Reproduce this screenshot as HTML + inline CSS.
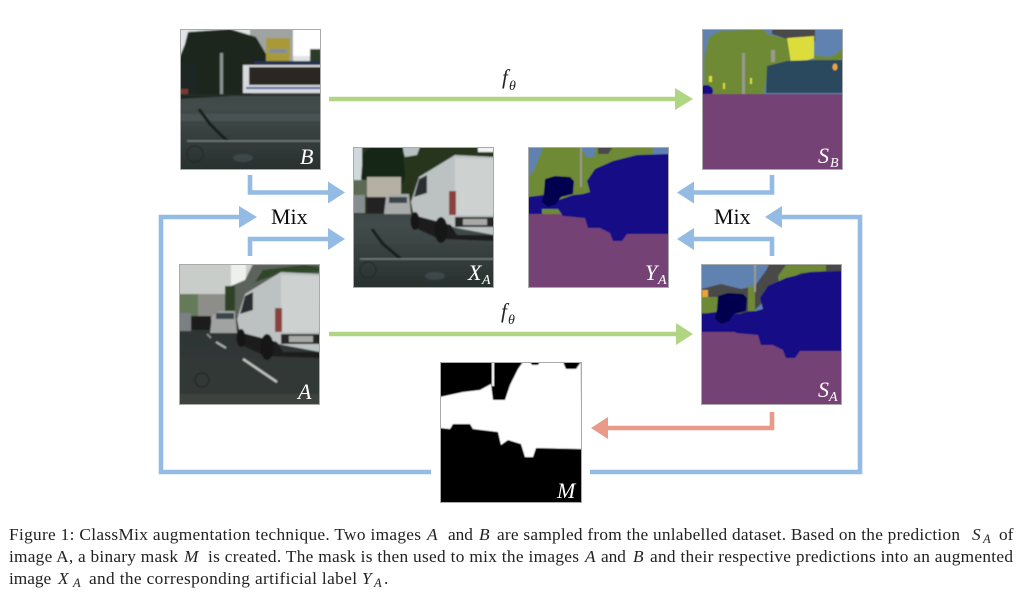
<!DOCTYPE html>
<html><head><meta charset="utf-8"><style>
html,body{margin:0;padding:0;background:#fff}
svg{display:block}
text{font-family:"Liberation Serif",serif}
.lab{fill:#fff;font-style:italic;font-size:22px}
.sub{fill:#fff;font-style:italic;font-size:14px}
.cap{fill:#222;font-size:17.3px}
.i{font-style:italic}
.s{font-style:italic;font-size:12.5px}
.mix{fill:#111;font-size:22px}
.f{fill:#222;font-style:italic;font-size:21px}
.t{fill:#222;font-style:italic;font-size:14px}
</style></head><body>
<svg width="1024" height="594" viewBox="0 0 1024 594" xmlns="http://www.w3.org/2000/svg">
<defs>
<filter id="b" x="-5%" y="-5%" width="110%" height="110%"><feGaussianBlur stdDeviation="0.8"/></filter>
<filter id="c" x="-2%" y="-20%" width="104%" height="140%"><feGaussianBlur stdDeviation="0.35"/></filter>
<filter id="s" x="-2%" y="-5%" width="104%" height="110%"><feGaussianBlur stdDeviation="0.5"/></filter>
<clipPath id="r"><rect width="141" height="141"/></clipPath>
<linearGradient id="road" x1="0" y1="0" x2="0" y2="1"><stop offset="0" stop-color="#30393a"/><stop offset=".55" stop-color="#424c4b"/><stop offset="1" stop-color="#262e2c"/></linearGradient>
<linearGradient id="road2" x1="0" y1="0" x2="0" y2="1"><stop offset="0" stop-color="#2a2f30"/><stop offset="1" stop-color="#333a36"/></linearGradient>
<g id="vb"><polygon points="0,50 15,48 22,56 45,48 55,47 62,45 59,34 67,22 85,14 109,8 141,7 141,87 99,87 94,94 85,94 82,86 72,81 60,81 57,71 35,69 30,62 12,62 9,67 0,67"/></g>
<g id="van">
<polygon points="0,47 8,22 44,0 83,2 83,80 46,73 3,62" fill="#bcc2c2"/>
<polygon points="44,3 83,4 83,60 44,60" fill="#cdd2d1"/>
<polygon points="8,24 16,20 16,38 3,42" fill="#2b2f30"/>
<rect x="38" y="36" width="7" height="24" fill="#8a3f3c"/>
<rect x="44" y="62" width="39" height="10" fill="#262626"/>
<rect x="52" y="64" width="24" height="6" fill="#a9aaa8"/>
<polygon points="2,60 40,70 46,80 83,80 83,86 28,84 2,72" fill="#1f1f1f"/>
<ellipse cx="4" cy="66" rx="4.500" ry="9" fill="#141414"/>
<ellipse cx="30" cy="75" rx="6.500" ry="13" fill="#141414"/>
</g>
</defs>
<rect width="1024" height="594" fill="#fff"/>

<!-- B -->
<g transform="translate(180,29)"><g clip-path="url(#r)"><g filter="url(#b)">
<rect x="-3" y="-3" width="147" height="147" fill="url(#road)"/>
<rect x="-3" y="-3" width="147" height="38" fill="#dfe5e6"/>
<rect x="112" y="-3" width="32" height="30" fill="#fff"/>
<rect x="70" y="-3" width="43" height="35" fill="#a0a4a0"/>
<polygon points="-3,70 -3,35 5,15 8,3 50,0 76,8 86,25 90,40 70,66" fill="#1a261b"/>
<rect x="-3" y="35" width="20" height="31" fill="#1f2720"/>
<rect x="86" y="9" width="24" height="28" fill="#a89a38"/>
<rect x="89" y="20" width="18" height="4" fill="#7f8e9c"/>
<rect x="130" y="20" width="11" height="15" fill="#2c3a26"/>
<rect x="63" y="36" width="78" height="28" fill="#d9dadd"/>
<rect x="69" y="38" width="72" height="18" fill="#2a2622"/>
<rect x="66" y="58" width="75" height="2" fill="#3d5aa0"/>
<rect x="74" y="32" width="67" height="4" fill="#24304f"/>
<rect x="40" y="24" width="3" height="41" fill="#8c9290"/>
<rect x="0" y="60" width="8" height="6" fill="#7a3b34"/>
<rect x="0" y="65" width="141" height="2" fill="#262b2c"/>
<rect x="0" y="85" width="141" height="7" fill="#5b6563" opacity=".4"/>
<polyline points="19,80 30,95 43,108 48,112" stroke="#171b1b" stroke-width="3" fill="none"/>
<line x1="7" y1="112" x2="141" y2="112" stroke="#7f8987" stroke-width="1.2"/>
<circle cx="15" cy="125" r="8" stroke="#1f2726" stroke-width="1" fill="none"/>
<ellipse cx="63" cy="129" rx="10" ry="4" fill="#55656a" opacity=".4"/>
</g></g><rect x=".5" y=".5" width="140" height="140" fill="none" stroke="#aaa"/></g>

<!-- XA -->
<g transform="translate(353,147)"><g clip-path="url(#r)"><g filter="url(#b)">
<rect x="-3" y="-3" width="147" height="147" fill="url(#road)"/>
<rect x="-3" y="-3" width="147" height="70" fill="#26351f"/>
<rect x="-3" y="-3" width="12" height="36" fill="#cfd9dc"/>
<polygon points="48,-3 68,-3 64,8 52,10" fill="#b8c2c2"/>
<rect x="125" y="-3" width="19" height="8" fill="#f2f2f2"/>
<polygon points="8,32 10,6 18,0 50,0 52,30 48,40 15,40" fill="#192718"/>
<rect x="0" y="33" width="16" height="16" fill="#5a6a55"/>
<rect x="14" y="30" width="34" height="21" fill="#b5b0a4"/>
<rect x="14" y="50" width="34" height="16" fill="#222221"/>
<rect x="0" y="48" width="12" height="18" fill="#888e90"/>
<polygon points="31,67 33,50 40,47 56,47 58,67" fill="#a8abaa"/>
<rect x="36" y="50" width="18" height="6" fill="#3a4448"/>
<g transform="translate(58,8)"><use href="#van"/></g>
<polyline points="19,82 30,97 43,108 48,112" stroke="#171b1b" stroke-width="3" fill="none"/>
<line x1="7" y1="112" x2="141" y2="112" stroke="#7f8987" stroke-width="1.2"/>
<circle cx="15" cy="123" r="8" stroke="#1f2726" stroke-width="1" fill="none"/>
<ellipse cx="82" cy="129" rx="10" ry="4" fill="#55656a" opacity=".4"/>
</g></g><rect x=".5" y=".5" width="140" height="140" fill="none" stroke="#aaa"/></g>

<!-- A -->
<g transform="translate(179,264)"><g clip-path="url(#r)"><g filter="url(#b)">
<rect x="-3" y="-3" width="147" height="147" fill="url(#road2)"/>
<rect x="-3" y="-3" width="147" height="40" fill="#c9cdc9"/>
<rect x="52" y="-3" width="15" height="24" fill="#eef0ee"/>
<polygon points="52,22 66,16 74,0 141,0 141,20 60,52 52,52" fill="#5c625c"/>
<polygon points="76,18 84,6 125,1 141,3 141,8 100,10" fill="#2f4628"/>
<rect x="0" y="30" width="20" height="22" fill="#657a58"/>
<rect x="19" y="30" width="27" height="26" fill="#8d8e8a"/>
<rect x="46" y="22" width="10" height="30" fill="#2e4228"/>
<rect x="0" y="49" width="12" height="18" fill="#7b8084"/>
<rect x="12" y="52" width="20" height="14" fill="#1a1a1a"/>
<polygon points="31,69 33,52 40,47 56,47 58,69" fill="#a0a3a2"/>
<rect x="37" y="49" width="18" height="6" fill="#3a4448"/>
<g transform="translate(58,8)"><use href="#van"/></g>
<line x1="64" y1="95" x2="98" y2="118" stroke="#c0c3c0" stroke-width="2.4"/>
<line x1="37" y1="78" x2="47" y2="84" stroke="#aeb2ae" stroke-width="2"/>
<line x1="28" y1="70" x2="32" y2="74" stroke="#999" stroke-width="1.5"/>
<circle cx="23" cy="116" r="7" stroke="#1d2322" stroke-width="1" fill="none"/>
<rect x="0" y="130" width="141" height="11" fill="#3d423e"/>
</g></g><rect x=".5" y=".5" width="140" height="140" fill="none" stroke="#aaa"/></g>

<!-- YA -->
<g transform="translate(528,147)"><g clip-path="url(#r)"><g filter="url(#s)">
<rect width="141" height="141" fill="#744274"/>
<polygon points="0,0 141,0 141,40 60,67 0,67" fill="#6e8a35"/>
<polygon points="0,0 15,0 12,8 5,25 0,30" fill="#5f82b0"/>
<polygon points="53,0 68,0 66,10 58,10" fill="#5f82b0"/>
<polygon points="70,0 85,0 80,7 70,7" fill="#4a4a4a"/>
<polygon points="125,0 141,0 141,8 125,8" fill="#5f82b0"/>
<rect x="52" y="0" width="2" height="40" fill="#989a8e"/>
<use href="#vb" fill="#170a86"/>
<rect x="0" y="50" width="14" height="17" fill="#170a86"/>
<polygon points="17,32 27,29 42,30 46,34 45,47 33,50 28,57 20,60 14,55 16,45" fill="#05024f"/>
</g></g><rect x=".5" y=".5" width="140" height="140" fill="none" stroke="#aaa"/></g>

<!-- SB -->
<g transform="translate(702,29)"><g clip-path="url(#r)"><g filter="url(#s)">
<rect width="141" height="141" fill="#744274"/>
<rect width="141" height="65" fill="#5f82b0"/>
<polygon points="2,65 2,30 7,8 18,2 60,0 68,6 88,10 88,35 65,45 62,65" fill="#6e8a35"/>
<polygon points="70,0 113,0 113,12 85,10 70,5" fill="#4a4a4a"/>
<polygon points="85,9 112,7 112,29 100,33 89,34" fill="#dcdc3e"/>
<polygon points="112,26 125,28 134,25 141,18 141,32 112,34" fill="#6e8a35"/>
<polygon points="65,37 85,32 112,31 141,31 141,64 64,64" fill="#2a4a5f"/>
<rect x="40" y="24" width="3" height="41" fill="#989a8e"/>
<rect x="69" y="21" width="4" height="12" fill="#999a90"/>
<ellipse cx="133" cy="38" rx="2.500" ry="3.500" fill="#e8a43a"/>
<rect x="7" y="47" width="3" height="6" fill="#dcdc3e"/>
<rect x="21" y="54" width="2" height="6" fill="#dcdc3e"/>
<rect x="48" y="49" width="2" height="6" fill="#dcdc3e"/>
<ellipse cx="4" cy="62" rx="7" ry="6" fill="#170a86"/>
<rect x="0" y="65" width="141" height="76" fill="#744274"/>
</g></g><rect x=".5" y=".5" width="140" height="140" fill="none" stroke="#aaa"/></g>

<!-- SA -->
<g transform="translate(701,264)"><g clip-path="url(#r)"><g filter="url(#s)">
<rect width="141" height="141" fill="#744274"/>
<rect width="141" height="67" fill="#5f82b0"/>
<polygon points="0,25 20,20 40,25 54,22 66,5 68,0 141,0 141,8 70,30 50,50 0,50" fill="#4a4a4a"/>
<polygon points="77,12 85,1 125,1 125,7 100,9 78,20" fill="#6e8a35"/>
<rect x="0" y="33" width="20" height="16" fill="#6e8a35"/>
<rect x="47" y="22" width="7" height="25" fill="#6e8a35"/>
<rect x="1" y="26" width="6" height="7" fill="#e8a43a"/>
<rect x="53" y="0" width="2" height="28" fill="#989a8e"/>
<use href="#vb" fill="#170a86"/>
<rect x="0" y="50" width="60" height="18" fill="#170a86"/>
<polygon points="17,32 27,29 42,30 46,34 45,47 33,50 28,57 20,60 14,55 16,45" fill="#05024f"/>
</g></g><rect x=".5" y=".5" width="140" height="140" fill="none" stroke="#aaa"/></g>

<!-- M -->
<g transform="translate(440,362)"><g clip-path="url(#r)"><g filter="url(#s)">
<rect width="142" height="141" fill="#000"/>
<polygon points="0,35 23,30 40,28 51,22 53,38 65,38 70,23 78,7 83,0 90,0 92,3 98,3 100,0 123,0 126,7 136,7 141,0 142,87 96,86 93,95 85,95 81,82 68,78 61,83 58,70 33,67 30,62 13,62 10,67 0,66" fill="#fff"/>
<rect x="52" y="0" width="2" height="24" fill="#fff"/>
</g></g><rect x=".5" y=".5" width="141" height="140" fill="none" stroke="#aaa"/></g>

<!-- Arrows -->
<g fill="none" stroke-width="4.6">
<path d="M329 99H677" stroke="#b0d583"/>
<path d="M329 334H678" stroke="#b0d583"/>
<path d="M250 175V192.500H330" stroke="#94bbe3"/>
<path d="M250 256V239H330" stroke="#94bbe3"/>
<path d="M431 472H161V217H241" stroke="#94bbe3"/>
<path d="M772 175V192.500H692" stroke="#94bbe3"/>
<path d="M772 256V239H692" stroke="#94bbe3"/>
<path d="M590 472H860V217H780" stroke="#94bbe3"/>
<path d="M772 412V428H606" stroke="#ea9a88"/>
</g>
<polygon points="675,88 693,99 675,110" fill="#b0d583"/>
<polygon points="676,323 693,334 676,345" fill="#b0d583"/>
<polygon points="328,181.500 345,192.500 328,203.500" fill="#94bbe3"/>
<polygon points="328,228 345,239 328,250" fill="#94bbe3"/>
<polygon points="239,206 257,217 239,228" fill="#94bbe3"/>
<polygon points="694,181.500 677,192.500 694,203.500" fill="#94bbe3"/>
<polygon points="694,228 677,239 694,250" fill="#94bbe3"/>
<polygon points="782,206 765,217 782,228" fill="#94bbe3"/>
<polygon points="608,417 591,428 608,439" fill="#ea9a88"/>

<!-- Labels -->
<g filter="url(#c)">
<text class="mix" x="271" y="224">Mix</text>
<text class="mix" x="714" y="224">Mix</text>
<text class="f" x="502" y="84">f</text><text class="t" x="509" y="90">θ</text>
<text class="f" x="501" y="318">f</text><text class="t" x="508" y="324">θ</text>
<text class="lab" x="300" y="164">B</text>
<text class="lab" x="468" y="280">X</text><text class="sub" x="482" y="284">A</text>
<text class="lab" x="645" y="280">Y</text><text class="sub" x="658" y="284">A</text>
<text class="lab" x="818" y="163">S</text><text class="sub" x="830" y="167">B</text>
<text class="lab" x="818" y="397">S</text><text class="sub" x="829" y="401">A</text>
<text class="lab" x="298" y="399">A</text>
<text class="lab" x="557" y="498">M</text>

<text class="cap" x="9" y="540" textLength="412" lengthAdjust="spacing">Figure 1: ClassMix augmentation technique. Two images</text>
<text class="cap i" x="427" y="540">A</text>
<text class="cap" x="448" y="540">and</text>
<text class="cap i" x="479" y="540">B</text>
<text class="cap" x="497" y="540" textLength="463" lengthAdjust="spacing">are sampled from the unlabelled dataset. Based on the prediction</text>
<text class="cap i" x="972" y="540">S</text><text class="cap s" x="983" y="543">A</text>
<text class="cap" x="999" y="540">of</text>

<text class="cap" x="9" y="562" textLength="169" lengthAdjust="spacing">image A, a binary mask</text>
<text class="cap i" x="184" y="562">M</text>
<text class="cap" x="208" y="562" textLength="371" lengthAdjust="spacing">is created. The mask is then used to mix the images</text>
<text class="cap i" x="585" y="562">A</text>
<text class="cap" x="601" y="562">and</text>
<text class="cap i" x="633" y="562">B</text>
<text class="cap" x="650" y="562" textLength="363" lengthAdjust="spacing">and their respective predictions into an augmented</text>

<text class="cap" x="9" y="584">image</text>
<text class="cap i" x="58" y="584">X</text><text class="cap s" x="73" y="587">A</text>
<text class="cap" x="89" y="584" textLength="268" lengthAdjust="spacing">and the corresponding artificial label</text>
<text class="cap i" x="362" y="584">Y</text><text class="cap s" x="374" y="587">A</text>
<text class="cap" x="384" y="584">.</text>
</g>
</svg>
</body></html>
